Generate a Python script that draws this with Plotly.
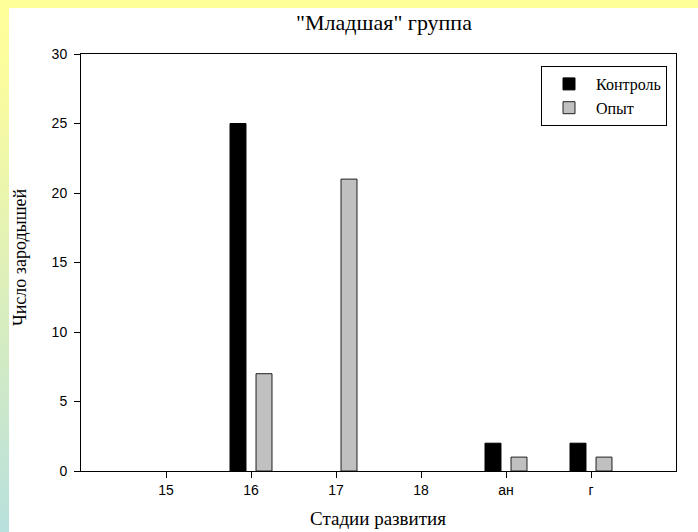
import base64
import plotly.graph_objects as go

# ---- data ----
stages = ["15", "16", "17", "18", "ан", "г"]
control = [0, 25, 0, 0, 2, 2]
experiment = [0, 7, 21, 0, 1, 1]
series_names = ["Контроль", "Опыт"]
y_ticks = [0, 5, 10, 15, 20, 25, 30]
title_text = '"Младшая" группа'
x_title = "Стадии развития"
y_title = "Число зародышей"

W, H = 698, 532
L, R, T, B = 81, 22, 54, 61
pw, ph = W - L - R, H - T - B

def px_x(px):
    return (px - L) / pw

def px_y(py):
    return (H - B - py) / ph

svg = (
    f'<svg xmlns="http://www.w3.org/2000/svg" width="{W}" height="{H}">'
    '<defs><linearGradient id="g" x1="0" y1="0" x2="0" y2="1">'
    '<stop offset="0" stop-color="#FFFF99"/><stop offset="0.15" stop-color="#FBFC9E"/>'
    '<stop offset="1" stop-color="#B8E0DD"/></linearGradient></defs>'
    f'<rect width="{W}" height="{H}" fill="url(#g)"/>'
    f'<rect x="9" y="8" width="{W-9}" height="{H-8}" fill="#FFFFFF"/></svg>'
)
src = "data:image/svg+xml;base64," + base64.b64encode(svg.encode()).decode()

serif = "Liberation Serif, Times New Roman, serif"
sans = "Liberation Sans, Arial, sans-serif"

def drawn(vals):
    # empty (zero) bars are not drawn, so no outline sits on the axis
    return [v if v != 0 else None for v in vals]

fig = go.Figure()
fig.add_trace(go.Bar(x=stages, y=drawn(control), name=series_names[0],
                     marker=dict(color="#000000", line=dict(color="#000000", width=1))))
fig.add_trace(go.Bar(x=stages, y=drawn(experiment), name=series_names[1],
                     marker=dict(color="#C0C0C0", line=dict(color="#202020", width=1))))

fig.update_layout(
    width=W, height=H,
    margin=dict(l=L, r=R, t=T, b=B, autoexpand=False),
    paper_bgcolor="#FFFFFF", plot_bgcolor="rgba(0,0,0,0)",
    barmode="group", bargap=0.388, bargroupgap=0.386,
    showlegend=True,
    legend=dict(x=px_x(667), xanchor="right", y=px_y(66), yanchor="top",
                bordercolor="#000000", borderwidth=1, bgcolor="#FFFFFF",
                font=dict(family=serif, size=16, color="#000000"),
                traceorder="normal", itemwidth=44),
    title=dict(text=title_text, x=px_x(384), xref="paper", xanchor="center",
               y=1 - 22 / H, yref="container", yanchor="middle",
               font=dict(family=serif, size=22, color="#000000")),
    images=[dict(source=src, xref="paper", yref="paper", x=px_x(0), y=px_y(0),
                 sizex=W / pw, sizey=H / ph, xanchor="left", yanchor="top",
                 sizing="stretch", layer="below")],
    annotations=[
        dict(text=x_title, xref="paper", yref="paper", x=px_x(378), y=px_y(518),
             xanchor="center", yanchor="middle", showarrow=False,
             font=dict(family=serif, size=19, color="#000000")),
        dict(text=y_title, xref="paper", yref="paper", x=px_x(20), y=px_y(258),
             xanchor="center", yanchor="middle", showarrow=False, textangle=-90,
             font=dict(family=serif, size=18, color="#000000")),
    ],
)
fig.update_xaxes(type="category", range=[-1, 6], showline=True, mirror=True,
                 linecolor="#000000", linewidth=1, ticks="outside", ticklen=6,
                 tickcolor="#000000", showgrid=False, zeroline=False,
                 tickfont=dict(family=sans, size=14, color="#000000"))
fig.update_yaxes(range=[0, 30], tickvals=y_ticks, showline=True, mirror=True,
                 linecolor="#000000", linewidth=1, ticks="outside", ticklen=6,
                 tickcolor="#000000", showgrid=False, zeroline=False,
                 ticklabelstandoff=4,
                 tickfont=dict(family=sans, size=14, color="#000000"))

fig.write_html("out.html")
